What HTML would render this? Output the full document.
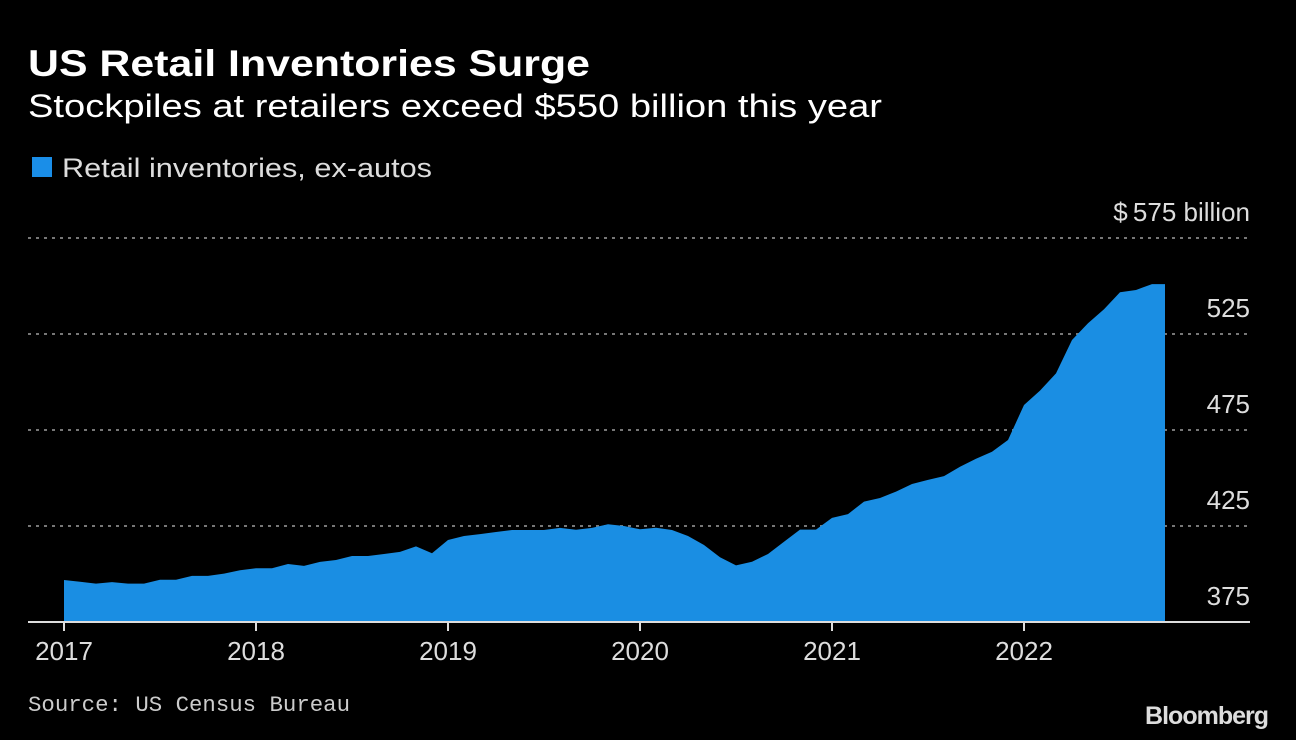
<!DOCTYPE html>
<html><head><meta charset="utf-8"><style>
html,body{margin:0;padding:0;background:#000;}
svg{display:block;font-family:"Liberation Sans",sans-serif;}
</style></head><body>
<svg id="chart" width="1296" height="740" viewBox="0 0 1296 740">
<text x="28" y="76" fill="#fff" font-size="37" font-weight="bold" textLength="562" lengthAdjust="spacingAndGlyphs">US Retail Inventories Surge</text>
<text x="28" y="117" fill="#fff" font-size="32" textLength="854" lengthAdjust="spacingAndGlyphs">Stockpiles at retailers exceed $550 billion this year</text>
<g>
<rect x="32" y="157" width="20" height="20" fill="#1a8ee8"/>
<text x="62" y="177" fill="#ddd" font-size="27" textLength="370" lengthAdjust="spacingAndGlyphs">Retail inventories, ex-autos</text>
</g>
<g id="grid"></g>
<g id="area"></g>
<g id="axes"></g>
<text x="28" y="711" fill="#ccc" font-size="22" font-family="Liberation Mono, monospace" textLength="322" lengthAdjust="spacingAndGlyphs">Source: US Census Bureau</text>
<text x="1268" y="724" fill="#ddd" font-size="25" font-weight="bold" text-anchor="end" letter-spacing="-1">Bloomberg</text>
</svg>
<script>
const values = [396.9,396,395,395.8,395,395,397,397,399,399,400.2,402,
403,403,405.2,404.2,406.3,407.3,409.4,409.4,410.4,411.5,414.4,410.8,
417.7,419.8,420.8,421.9,422.9,422.9,422.9,424,423,424,425.9,425,
423.3,424.1,422.9,419.8,415.1,408.7,404.5,406.4,410.4,416.8,423.1,423.1,
429.2,431.2,437.7,439.6,442.9,446.9,449,451,455.9,460,463.7,469.8,
488,495.5,504.5,521.9,530.6,537.9,546.7,547.9,551,551];
const yTicks = [375,425,475,525,575];
const yearLabels = ["2017","2018","2019","2020","2021","2022"];
const NS="http://www.w3.org/2000/svg";
const yMin=375, yMax=575, yBot=622, yTop=238;
const x0=64, monthW=16, xEnd=1165;
function ys(v){return yBot-(v-yMin)*(yBot-yTop)/(yMax-yMin);}
function xs(i){return Math.min(x0+i*monthW, xEnd);}
function mk(tag,attrs,parent){const e=document.createElementNS(NS,tag);for(const k in attrs)e.setAttribute(k,attrs[k]);parent.appendChild(e);return e;}
const grid=document.getElementById('grid'), area=document.getElementById('area'), axes=document.getElementById('axes');
yTicks.forEach((t,k)=>{
  const y=ys(t);
  if(k>0){
    const l=mk('line',{x1:28,x2:1250,y1:y,y2:y,stroke:'#777','stroke-width':2,'stroke-dasharray':'3,5'},grid);
    
    
  }
  const tx=mk('text',{x:1250,y:y-17,fill:'#ddd','font-size':26,'text-anchor':'end'},grid);
  tx.textContent = k===yTicks.length-1 ? '$\u2009'+t+' billion' : String(t);
  
  
});
let d='M'+xs(0)+','+yBot;
values.forEach((v,i)=>{d+=' L'+xs(i)+','+ys(v).toFixed(1);});
d+=' L'+xs(values.length-1)+','+yBot+' Z';
const p=mk('path',{d:d,fill:'#1a8ee3'},area);


const ax=mk('line',{x1:28,x2:1250,y1:yBot,y2:yBot,stroke:'#ddd','stroke-width':2},axes);


yearLabels.forEach((lab,k)=>{
  const x=xs(k*12);
  const tk=mk('line',{x1:x,x2:x,y1:yBot,y2:yBot+9,stroke:'#ddd','stroke-width':2},axes);
  
  
  const t=mk('text',{x:x,y:660,fill:'#ddd','font-size':26,'text-anchor':'middle'},axes);
  t.textContent=lab;
  
  
});
</script>
</body></html>
